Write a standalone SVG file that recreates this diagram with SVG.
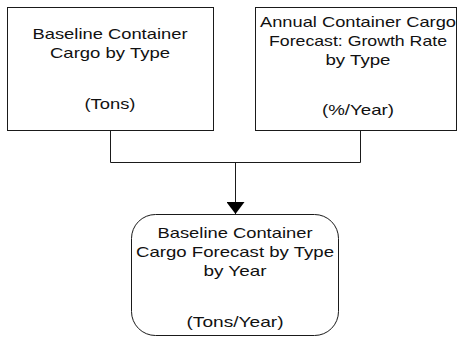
<svg xmlns="http://www.w3.org/2000/svg" width="458" height="338" viewBox="0 0 458 338">
<style>
.box{fill:#fff;stroke:#1a1a1a;stroke-width:1}
.t{font-family:"Liberation Sans",Arial,sans-serif;font-size:15px;fill:#111;text-anchor:middle}
.c{fill:none;stroke:#1a1a1a;stroke-width:1}
</style>
<defs>
<marker id="ah" viewBox="0 0 12 18" refX="12" refY="9" markerWidth="12" markerHeight="18" markerUnits="userSpaceOnUse" orient="auto">
<path d="M0,0 L12,9 L0,18 Z" fill="#000"/>
</marker>
</defs>
<rect width="458" height="338" fill="#fff"/>
<g id="connectors">
<path class="c" d="M110.5,131 V162.5 H360.5 V131"/>
<path class="c" d="M235.5,162.5 V214" marker-end="url(#ah)"/>
</g>
<g id="baseline-cargo">
<rect class="box" x="7.5" y="7.5" width="206" height="123"/>
<text class="t" x="110" y="39" textLength="155" lengthAdjust="spacingAndGlyphs">Baseline Container</text>
<text class="t" x="110" y="58" textLength="120" lengthAdjust="spacingAndGlyphs">Cargo by Type</text>
<text class="t" x="110" y="109" textLength="51" lengthAdjust="spacingAndGlyphs">(Tons)</text>
</g>
<g id="growth-rate">
<rect class="box" x="255.5" y="7.5" width="201" height="123"/>
<text class="t" x="358" y="27" textLength="196" lengthAdjust="spacingAndGlyphs">Annual Container Cargo</text>
<text class="t" x="358" y="46" textLength="178" lengthAdjust="spacingAndGlyphs">Forecast: Growth Rate</text>
<text class="t" x="358" y="65" textLength="65" lengthAdjust="spacingAndGlyphs">by Type</text>
<text class="t" x="358" y="115" textLength="72" lengthAdjust="spacingAndGlyphs">(%/Year)</text>
</g>
<g id="baseline-forecast">
<rect class="box" x="131.5" y="214.5" width="207" height="121" rx="24" ry="24"/>
<text class="t" x="235" y="238" textLength="155" lengthAdjust="spacingAndGlyphs">Baseline Container</text>
<text class="t" x="235" y="257" textLength="198" lengthAdjust="spacingAndGlyphs">Cargo Forecast by Type</text>
<text class="t" x="235" y="276" textLength="63" lengthAdjust="spacingAndGlyphs">by Year</text>
<text class="t" x="235" y="327" textLength="97" lengthAdjust="spacingAndGlyphs">(Tons/Year)</text>
</g>
</svg>
